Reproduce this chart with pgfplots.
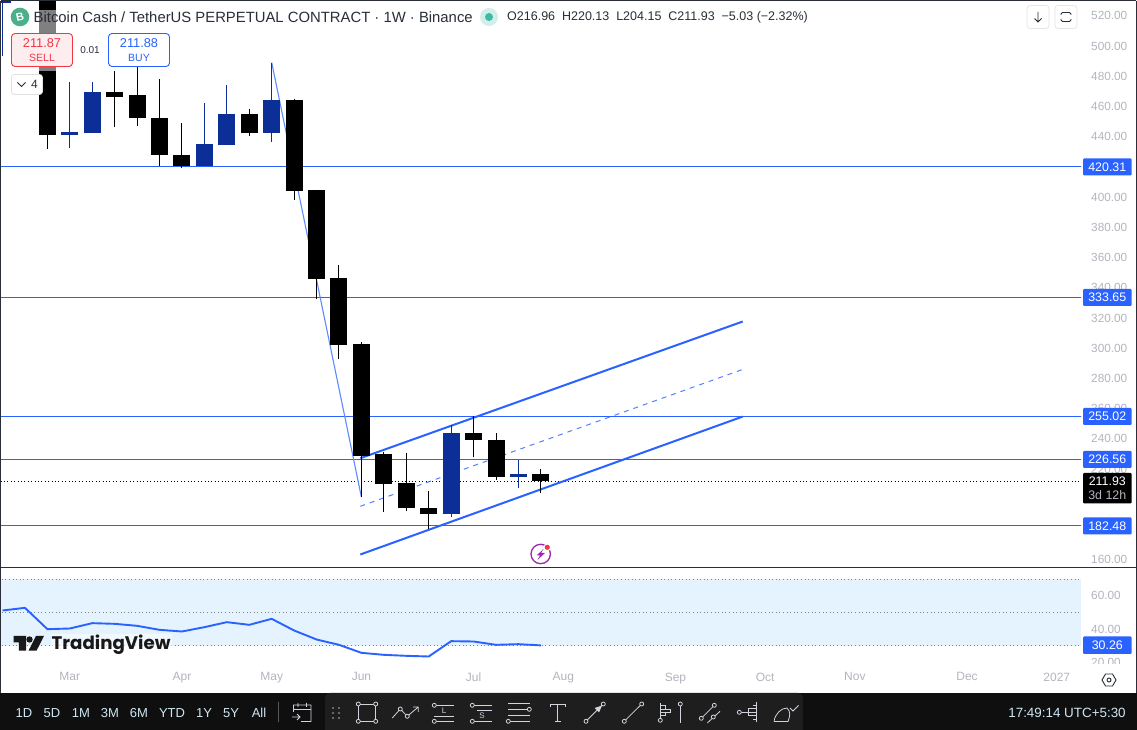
\documentclass[border=0pt]{standalone}
\usepackage{fontspec}
\setmainfont{Liberation Sans}
\newfontfamily\logofont{Poppins}
\usepackage{pgfplots}
\usepackage{pgfplotstable}
\pgfplotsset{compat=1.18}
\definecolor{tvblue}{HTML}{2962FF}
\definecolor{candleblue}{HTML}{0B2F97}
\definecolor{axisgrey}{HTML}{B2B5BE}
\definecolor{band}{HTML}{E4F3FE}
\definecolor{cframe}{HTML}{2A2E39}
\definecolor{cbar}{HTML}{0F0F0F}
\definecolor{cpanel}{HTML}{1E1E1E}
\definecolor{cicon}{HTML}{D1D4DC}
\definecolor{ctf}{HTML}{CFE6F2}
\definecolor{csell}{HTML}{F23645}
\definecolor{ccoin}{HTML}{4CAF8A}
\definecolor{cdotA}{HTML}{D3EEEA}
\definecolor{cdotB}{HTML}{3DBBA5}
\definecolor{cpurple}{HTML}{9C27B0}
\newcommand\fs[1]{\fontsize{#1}{#1}\selectfont}
\pgfplotstableread{
i   low    bot    top    high
0   431.7  441.0  560.0  560.0
3   446.3  466.6  469.3  483.6
4   447.0  452.3  467.3  490.0
5   420.3  427.8  452.7  477.9
6   419.2  420.3  428.2  449.4
9   440.3  442.3  454.7  458.5
11  397.8  403.9  464.0  465.1
12  332.5  345.7  404.4  404.4
13  292.8  302.0  346.2  354.8
14  201.4  229.0  302.5  304.3
15  191.5  210.0  229.7  231.2
16  192.2  194.1  210.5  231.0
17  180.1  190.2  194.6  205.2
19  227.7  239.2  244.2  255.0
20  213.1  214.7  239.6  244.2
22  204.15 211.93 216.96 220.13
}\blackcandles
\pgfplotstableread{
i   low    bot    top    high
-2  493.7  528.2  535.0  535.0
1   432.4  440.8  442.8  476.5
2   442.3  442.3  469.3  476.5
7   420.3  420.3  434.9  462.0
8   434.2  434.2  454.7  473.9
10  436.8  442.3  464.0  489.1
18  188.2  190.2  244.2  248.9
21  207.2  214.7  216.96 226.2
}\bluecandles
\pgfplotstableread{
i  rsi
-2 51.2
-1 52.8
0  40.0
1  40.4
2  43.6
3  43.2
4  42.0
5  39.6
6  38.6
7  41.2
8  44.2
9  42.6
10 46.2
11 39.2
12 33.8
13 30.6
14 25.8
15 24.6
16 24.0
17 23.6
18 32.8
19 32.6
20 30.6
21 31.0
22 30.26
}\rsitable
\pgfplotsset{chartbase/.style={
  scale only axis, width=1081pt, anchor=south west,
  xmin=-2.113, xmax=46.08,
  axis line style={draw=none}, major tick length=0pt,
  tick style={draw=none},
  ticklabel style={color=axisgrey, font=\fs{11.8}},
  yticklabel pos=right,
  yticklabel style={anchor=west, inner sep=0pt, xshift=10pt},
  /pgf/number format/fixed, /pgf/number format/fixed zerofill,
  /pgf/number format/precision=2, /pgf/number format/assume math mode=true,
}}
\begin{document}
\begin{tikzpicture}
\path[use as bounding box] (0,0) rectangle (1137pt,730pt);
\fill[white] (0,0) rectangle (1137pt,730pt);
% main pane
\begin{axis}[chartbase, at={(0pt,162.5pt)}, height=566pt,
  ymin=154.9, ymax=529.49, xtick=\empty,
  ytick={160,180,...,520}]
\addplot[tvblue, line width=1pt] coordinates {(-3,420.31)(47,420.31)};
\addplot[tvblue, line width=1pt] coordinates {(-3,333.65)(47,333.65)};
\addplot[tvblue, line width=1pt] coordinates {(-3,255.02)(47,255.02)};
\addplot[tvblue, line width=1pt] coordinates {(-3,226.56)(47,226.56)};
\addplot[tvblue, line width=1pt] coordinates {(-3,182.48)(47,182.48)};
\addplot[black, line width=1pt, dash pattern=on 1pt off 2.4pt] coordinates {(-3,211.93)(47,211.93)};
\addplot[tvblue!75, line width=1.1pt] coordinates {(10,489.1)(14,201.4)};
\addplot[tvblue, line width=1pt, dash pattern=on 5pt off 5pt, opacity=.8] coordinates {(13.95,195.4)(31,286.0)};
\addplot[tvblue, line width=2pt] coordinates {(13.95,227.2)(31,317.7)};
\addplot[tvblue, line width=2pt] coordinates {(13.95,163.5)(31,254.8)};
% wicks
\addplot[draw=none, mark=none, error bars/.cd, y dir=plus, y explicit, error mark=none, error bar style={draw=black, solid, line width=1pt}]
  table[x=i, y=low, y error expr=\thisrow{high}-\thisrow{low}] {\blackcandles};
\addplot[draw=none, mark=none, error bars/.cd, y dir=plus, y explicit, error mark=none, error bar style={draw=candleblue, solid, line width=1pt}]
  table[x=i, y=low, y error expr=\thisrow{high}-\thisrow{low}] {\bluecandles};
% bodies
\addplot[draw=none, mark=none, error bars/.cd, y dir=plus, y explicit, error mark=none, error bar style={draw=black, solid, line width=17pt}]
  table[x=i, y=bot, y error expr=\thisrow{top}-\thisrow{bot}] {\blackcandles};
\addplot[draw=none, mark=none, error bars/.cd, y dir=plus, y explicit, error mark=none, error bar style={draw=candleblue, solid, line width=17pt}]
  table[x=i, y=bot, y error expr=\thisrow{top}-\thisrow{bot}] {\bluecandles};
\end{axis}
% RSI pane
\begin{axis}[chartbase, at={(0pt,65.5pt)}, height=96pt,
  ymin=18.8, ymax=76.4, ytick={20,40,60},
  xtick={1,6,10,14,19,23,28,32,36,41,45},
  xticklabels={Mar,Apr,May,Jun,Jul,Aug,Sep,Oct,Nov,Dec,2027},
  xticklabel style={inner sep=0pt, yshift=-8pt, font=\fs{12}}]
\addplot[fill=band, draw=none] coordinates {(-2.05,30)(46.08,30)(46.08,70)(-2.05,70)} --cycle;
\addplot[cframe!60, line width=.8pt, dash pattern=on 1pt off 2.6pt] coordinates {(-3,70)(47,70)};
\addplot[cframe!60, line width=.8pt, dash pattern=on 1pt off 2.6pt] coordinates {(-3,50)(47,50)};
\addplot[cframe!60, line width=.8pt, dash pattern=on 1pt off 2.6pt] coordinates {(-3,30)(47,30)};
\addplot[tvblue, line width=1.9pt, line join=round] table[x=i,y=rsi] {\rsitable};
\end{axis}
% decoration in pixel coordinates
\begin{scope}[x=1pt, y=-1pt, shift={(0,730pt)}]
\fill[white] (1083,664.5) rectangle (1137,671);
% frame
\draw[cframe, line width=1.5pt] (0.7,0.7) -- (1136.3,0.7);
\draw[cframe, line width=1.5pt] (0.7,0.7) -- (0.7,693);
\draw[cframe, line width=1.5pt] (1136.3,0.7) -- (1136.3,693);
\draw[cframe, line width=1.5pt] (0,567.5) -- (1137,567.5);
% header veil over the candle
\fill[white, opacity=.5] (39,10) rectangle (56,71);
% title
\fill[ccoin] (20,17) circle (9.3);
\node[white, font=\bfseries\fs{11}, rotate=12] at (20,17) {B};
\node[anchor=west, inner sep=0pt, color=cframe, font=\fs{14.85}] at (33.5,17.5) {Bitcoin Cash / TetherUS PERPETUAL CONTRACT · 1W · Binance};
\fill[cdotA] (489,17) circle (9);
\fill[cdotB] (489,17) circle (4);
\node[anchor=west, inner sep=0pt, color=cframe, font=\fs{12.5}] at (507,17.5) {O216.96\ \ H220.13\ \ L204.15\ \ C211.93\ \ −5.03 (−2.32\%)};
% sell / buy
\draw[csell, fill=csell!9, line width=.9pt, rounded corners=3.5pt] (11.5,33.5) rectangle (72.5,66.5);
\node[csell, font=\fs{12.8}] at (42,43) {211.87};
\node[csell, font=\fs{10.5}] at (42,57.5) {SELL};
\node[color=cframe, font=\fs{10}] at (90,50) {0.01};
\draw[tvblue, fill=white, line width=.9pt, rounded corners=3.5pt] (108.5,33.5) rectangle (169.5,66.5);
\node[tvblue, font=\fs{12.8}] at (139,43) {211.88};
\node[tvblue, font=\fs{10.5}] at (139,57.5) {BUY};
\draw[black!12, fill=white, line width=.8pt, rounded corners=3pt] (11.5,74.5) rectangle (42.5,94.5);
\draw[cframe, line width=.9pt] (17.5,82.5) -- (21.5,86.5) -- (25.5,82.5);
\node[color=cframe, font=\fs{12}] at (34.5,84.5) {4};
% right-top buttons
\draw[black!10, line width=.8pt, rounded corners=3pt] (1027,5.5) rectangle (1049,28.5);
\draw[black!10, line width=.8pt, rounded corners=3pt] (1055,5.5) rectangle (1077,28.5);
\draw[cframe, line width=.8pt] (1038,12) -- (1038,22) (1034.5,18.5) -- (1038,22) -- (1041.5,18.5);
\draw[cframe, line width=.8pt, rounded corners=1.5pt] (1061,15) -- (1061,12.5) -- (1071,12.5) -- (1071,15) (1061,19) -- (1061,21.5) -- (1071,21.5) -- (1071,19);
% price tags
\foreach \yy/\tx in {167/420.31, 297.5/333.65, 416.5/255.02, 459.5/226.56, 526/182.48}{
  \fill[tvblue, rounded corners=1pt] (1083,\yy-8.5) rectangle (1131.5,\yy+8.5);
  \node[white, font=\fs{12.4}] at (1107.3,\yy) {\tx};
}
\fill[black, rounded corners=1pt] (1083,473) rectangle (1131.5,503.5);
\node[white, font=\fs{12.4}] at (1107.3,481.5) {211.93};
\node[axisgrey, font=\fs{12.4}] at (1107.3,495.5) {3d 12h};
\fill[tvblue, rounded corners=1pt] (1083,636.5) rectangle (1131.5,654);
\node[white, font=\fs{12.4}] at (1107.3,645.3) {30.26};
% lightning icon
\draw[cpurple, line width=1.3pt] (540.7,554) circle (9.7);
\fill[cpurple] (543.5,549) -- (536.5,555.5) -- (540,555.5) -- (537.5,560) -- (545,553) -- (541,553) -- cycle;
\fill[white] (547.3,547.3) circle (3.8);
\fill[csell] (547.3,547.3) circle (2.6);
% TradingView
\node[anchor=west, inner sep=1pt, fill=white, fill opacity=.55, text opacity=1, text=black!90, font=\logofont\bfseries\fs{18.2}] at (50.5,644.5) {TradingView};
\fill[black!90] (13.5,636) -- (26,636) -- (26,650.7) -- (18.8,650.7) -- (18.8,642.5) -- (13.5,642.5) -- cycle;
\fill[black!90] (29.5,639.5) circle (3.2);
\fill[black!90] (36,636) -- (44,636) -- (36.5,650.7) -- (28.5,650.7) -- cycle;
% gear
\draw[cframe, line width=.9pt] (1102,680) -- (1105.5,674) -- (1112.5,674) -- (1116,680) -- (1112.5,686) -- (1105.5,686) -- cycle;
\draw[cframe, line width=.9pt] (1109,680) circle (2);
% toolbar
\fill[cbar] (0,693) rectangle (1137,730);
\begin{scope}
\clip (320,693) rectangle (810,730);
\fill[cpanel, rounded corners=5pt] (325,693) rectangle (803,740);
\end{scope}
\foreach \xx/\tx in {24/1D,52/5D,81/1M,110/3M,139/6M,172/YTD,204/1Y,231/5Y,259/All}{
  \node[ctf, font=\fs{13}] at (\xx,713) {\tx};
}
\draw[black!65!white, line width=.7pt] (278.6,702) -- (278.6,722);
\node[ctf, font=\fs{13.4}] at (1067,713) {17:49:14 UTC+5:30};
% calendar
\draw[cicon, line width=.8pt] (293.5,712) -- (293.5,705) -- (311,705) -- (311,721.5) -- (301,721.5)
  (293.5,709.5) -- (311,709.5) (298,703) -- (298,707) (306.5,703) -- (306.5,707)
  (292,717) -- (300,717) (297,714) -- (300,717) -- (297,720);
% grip
\foreach \xx in {333.3,338.7}{\foreach \yy in {708,713,718}{\fill[black!60!white] (\xx-.9,\yy-.9) rectangle (\xx+.9,\yy+.9);}}
\begin{scope}[cicon, line width=.8pt]
\def\cc(#1,#2){\draw[fill=cpanel] (#1,#2) circle (2);}
\draw (358.3,704) -- (375.7,704) -- (375.7,721.3) -- (358.3,721.3) -- cycle;
\cc(358.3,704)\cc(375.7,704)\cc(358.3,721.3)\cc(375.7,721.3)
\draw (392.3,718) -- (400.3,709) -- (407.3,716.3) -- (418.3,707) (413,707) -- (418.3,707) -- (418.3,712);
\cc(400.3,709)\cc(407.3,716.3)
\draw (434.3,705.3) -- (454,705.3) (434,716.3) -- (454,716.3) (434.3,721.3) -- (454,721.3);
\cc(434.3,705.3)\cc(434.3,721.3)
\node[cicon, font=\fs{8}] at (444,710.5) {L};
\draw (472.3,705.3) -- (492.3,705.3) (476.7,710.3) -- (492.3,710.3) (472.3,721.3) -- (492.3,721.3);
\cc(472.3,705.3)\cc(472.3,721.3)
\node[cicon, font=\fs{8}] at (482,716) {S};
\draw (508,703.7) -- (530,703.7) (508,709.3) -- (528,709.3) (508,715.3) -- (530,715.3) (508.3,721.3) -- (530,721.3);
\cc(529.3,709.3)\cc(508.3,721.3)
\draw (550,707) -- (550,704.7) -- (565,704.7) -- (565,707) (557.7,704.7) -- (557.7,721.3) (555,721.3) -- (560.5,721.3);
\draw (586,721.3) -- (603.3,704);
\cc(586,721.3)\cc(603.3,704)
\fill[cicon] (602,705.5) -- (594.5,708) -- (597,710.5) -- (599,712.5) -- cycle;
\draw (624.3,721.3) -- (641.7,704);
\cc(624.3,721.3)\cc(641.7,704)
\draw (660.3,703) -- (660.3,718) (660.3,705.5) -- (665.5,705.5) -- (665.5,709) -- (660.3,709)
  (660.3,709) -- (670,709) -- (670,712.3) -- (660.3,712.3) (660.3,715.7) -- (665,715.7) -- (665,712.3);
\cc(660.3,720.3)
\draw (680.3,706) -- (680.3,723);
\cc(680.3,704)
\draw (701.3,718.3) -- (714.3,705.3) (707.3,723) -- (720,711.3);
\cc(701.3,718.3)\cc(714.3,705.3)\cc(713.3,717)
\draw (756.3,702) -- (756.3,722) (741,712.3) -- (756.3,712.3) (748.3,708.7) -- (756.3,708.7) (748.3,715.7) -- (756.3,715.7)
  (748.3,708.7) -- (748.3,715.7) (753.3,705.7) -- (756.3,705.7) (753.3,719) -- (756.3,719);
\cc(739.3,712.3)
\draw (774,721.5) -- (788,721.5) .. controls (790,716) and (791,712) .. (787,708) .. controls (781,708) and (775,714) .. (774,721.5)
  (790,708) -- (793,711) -- (798.5,705.5);
\end{scope}
\end{scope}
\end{tikzpicture}
\end{document}
